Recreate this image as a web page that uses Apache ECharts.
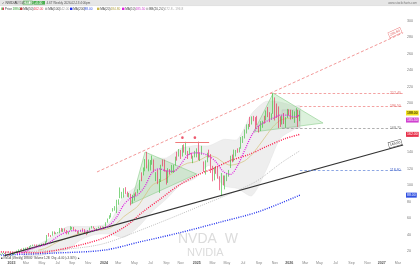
<!DOCTYPE html>
<html><head><meta charset="utf-8">
<script src="https://cdn.jsdelivr.net/npm/echarts@6/dist/echarts.min.js"></script>
<style>html,body{margin:0;padding:0;background:#fff}#c{width:420px;height:265px}</style>
</head><body><div id="c"></div>
<script>
// ---------- categories (weekly, Friday dates) ----------
const weekStart = '2022-11-25';
const weekCount = 227;
const monthNames = ['Jan','Feb','Mar','Apr','May','Jun','Jul','Aug','Sep','Oct','Nov','Dec'];
const yTicks = [20,40,60,80,100,120,140,160,180,200,220,240,260,280,300];

// ---------- weekly candles [open, close, low, high] ----------
const ohlc2022 = [[15.5,16.5,15.2,16.7],[16.5,17.2,16.0,17.8],[17.2,17.3,16.4,17.6],[17.3,16.5,16.2,18.3],[16.5,15.2,15.0,16.6],[15.2,14.6,14.1,15.5]];
const ohlc2023 = [[14.6,14.9,14.0,15.0],[15.2,16.9,15.0,16.9],[16.8,17.8,16.5,17.9],[17.6,20.3,17.3,20.4],[19.8,21.1,19.2,22.0],[21.0,21.3,20.8,22.3],[21.6,21.4,21.0,22.8],[21.0,23.3,20.6,23.8],[23.5,24.0,22.5,24.0],[24.0,23.0,22.6,24.6],[23.1,25.7,22.9,25.8],[25.9,26.8,25.2,27.1],[26.6,27.8,26.0,27.8],[27.6,27.0,26.2,28.0],[26.8,26.8,26.1,27.9],[26.7,27.1,26.3,27.4],[27.0,27.8,26.1,28.0],[27.7,28.7,26.8,28.8],[28.7,28.3,28.0,29.4],[28.3,31.2,28.1,31.8],[31.5,38.9,30.5,39.5],[40.0,39.3,37.5,41.9],[38.9,38.7,37.0,39.5],[38.8,42.6,38.6,43.9],[42.7,42.2,40.3,43.8],[41.6,42.3,40.6,42.6],[42.0,42.5,41.5,43.0],[42.7,45.5,41.5,48.0],[46.0,44.4,43.5,48.1],[45.4,46.8,43.2,47.4],[46.5,44.7,43.5,47.6],[44.4,40.9,40.3,45.5],[40.3,43.3,40.3,43.8],[45.8,46.1,45.2,50.2],[46.5,48.5,46.3,49.4],[48.6,45.6,45.1,49.3],[45.4,43.9,43.4,46.5],[44.0,41.6,40.9,44.5],[41.6,43.5,41.0,43.9],[44.0,45.7,43.4,45.9],[45.6,45.4,44.2,47.5],[44.0,41.4,41.3,46.7],[42.5,40.5,39.3,42.8],[40.9,45.0,40.8,45.5],[45.3,48.3,45.0,48.5],[48.5,49.3,47.4,50.5],[50.0,47.8,47.5,50.0],[47.8,46.5,46.0,48.0],[45.6,47.6,44.9,47.8],[48.0,48.9,47.6,49.6],[49.5,48.8,48.0,50.0],[48.8,49.5,48.6,49.9]];
const ohlc2024 = [[49.2,49.0,47.3,49.5],[49.5,54.7,49.5,55.0],[55.0,59.5,54.4,59.5],[60.0,61.1,59.0,63.5],[61.5,66.2,60.8,66.2],[68.3,72.1,68.0,72.2],[72.5,72.6,69.1,74.6],[71.9,78.9,66.2,82.4],[79.3,82.3,76.3,82.9],[85.2,87.5,84.3,97.4],[86.4,87.8,84.0,92.0],[86.9,94.3,85.0,96.4],[95.0,90.4,89.5,97.7],[90.3,88.0,85.9,92.3],[87.9,88.2,85.2,90.6],[89.0,76.2,75.6,89.6],[78.1,87.8,78.0,88.4],[87.7,88.8,81.2,90.0],[90.4,89.8,87.0,91.5],[90.4,92.5,90.0,95.2],[94.4,106.5,94.0,106.6],[111.0,109.6,105.0,115.8],[113.0,120.9,112.0,121.7],[120.3,131.9,117.0,131.9],[132.9,126.6,120.5,140.8],[123.2,123.5,117.0,131.4],[123.5,125.8,118.0,130.7],[127.5,129.2,125.0,136.2],[130.6,117.9,116.0,131.4],[113.0,113.1,105.0,116.0],[112.5,107.3,101.4,119.0],[92.1,104.8,90.7,107.7],[106.3,124.6,104.0,125.0],[130.0,129.4,123.0,131.3],[129.6,119.4,116.7,131.3],[116.0,102.8,100.9,118.1],[104.9,119.1,103.0,120.8],[116.8,116.0,113.0,119.7],[116.6,121.4,115.0,124.9],[121.8,124.9,115.1,125.0],[124.9,134.8,124.0,134.9],[138.1,138.0,130.0,140.9],[136.8,141.5,135.0,144.1],[143.0,135.4,132.0,143.0],[137.5,147.6,135.0,148.9],[149.0,142.0,139.8,149.8],[141.0,142.0,137.0,152.9],[141.8,138.3,132.0,141.9],[138.8,142.4,137.0,145.8],[138.9,134.3,132.4,139.6],[132.8,134.7,126.9,136.0],[135.0,137.0,134.0,141.9]];
const ohlc2025 = [[136.0,144.5,134.0,145.0],[148.6,135.9,130.7,153.1],[129.9,137.7,129.5,138.9],[139.2,142.6,137.1,148.0],[124.8,120.1,116.2,129.0],[114.8,129.8,113.0,130.4],[130.1,138.9,128.0,139.6],[141.3,134.4,133.8,143.4],[136.6,124.9,115.0,138.0],[123.5,112.7,104.8,123.7],[109.9,121.7,106.0,122.0],[122.7,117.7,114.0,123.5],[119.8,109.7,108.0,122.0],[107.0,94.3,94.0,111.0],[87.5,110.9,86.6,115.0],[108.5,101.5,100.0,112.0],[98.8,111.0,95.0,111.9],[108.0,114.5,105.0,115.0],[112.9,116.7,110.5,118.7],[123.0,135.4,121.0,136.0],[134.3,131.3,128.0,137.4],[134.2,135.1,129.0,143.5],[135.5,141.7,135.0,143.0],[142.2,142.0,139.5,145.0],[142.5,143.9,140.0,146.2],[145.3,157.8,144.5,158.7],[157.9,159.3,151.5,160.0],[158.5,164.9,157.0,167.9],[165.0,172.4,163.0,174.2],[172.4,173.5,168.0,174.7],[176.0,173.7,171.0,183.3],[175.0,182.7,174.0,183.9],[182.6,180.5,178.0,184.5],[182.0,178.0,168.8,183.0],[180.0,174.2,173.0,184.5],[170.0,167.0,164.1,172.6],[168.0,177.8,166.0,178.0],[174.0,176.7,170.0,178.5],[182.0,178.2,175.0,184.6],[180.0,187.6,179.0,191.1],[185.0,183.2,183.0,195.3],[187.0,183.2,176.8,189.0],[182.0,186.3,180.0,187.5],[189.0,202.5,187.0,212.2],[206.0,188.2,178.9,207.0],[193.0,190.2,182.0,199.6],[190.0,178.9,169.5,196.0],[179.0,177.0,171.0,184.0],[176.0,182.4,174.0,185.0],[185.0,175.0,174.5,188.0],[176.0,181.0,170.0,183.0],[183.0,190.5,182.0,193.0]];
const ohlc2026 = [[190.0,188.9,185.0,192.5],[189.0,184.9,180.0,192.0],[185.0,186.2,180.5,191.5],[184.0,187.7,176.0,190.0],[188.0,191.0,182.0,194.0],[190.0,182.0,171.0,192.0],[182.0,188.0,178.0,191.0]];

// ---------- moving averages [weekIndex, price] ----------
const ma50 = [[0,19],[20,18],[40,25],[58,36],[70,50],[80,68],[90,84],[100,100],[111,113],[120,121],[129,130],[140,138],[150,148],[160,157],[168,162]];
const ma100 = [[0,18],[30,21],[56,28],[78,45],[110,73],[142,103],[158,128],[168,142]];
const ma200 = [[0,15],[30,17.5],[58,21],[78,31],[100,42],[123,55],[145,68],[168,88]];
const ma10 = [[9,16.7],[13,18.7],[17,22.5],[21,25.3],[25,27.7],[29,32.9],[33,39.2],[37,43.1],[41,44.8],[45,44.4],[49,44.1],[53,45.3],[57,47.2],[61,51.3],[65,61.2],[69,76.2],[73,84.6],[77,88.4],[81,99.2],[85,115.6],[89,120.1],[93,117.4],[97,117.0],[101,125.3],[105,136.6],[109,139.5],[113,138.9],[117,135.6],[121,128.1],[125,116.7],[129,113.3],[133,124.0],[137,142.8],[141,161.2],[145,172.6],[149,177.6],[153,181.7],[157,185.5],[161,185.2],[165,183.3],[168,185.5]];
const ma20 = [[21,21.0],[25,23.2],[29,27.7],[33,32.3],[37,35.4],[41,38.9],[45,41.8],[49,43.6],[53,45.1],[57,45.8],[61,47.7],[65,53.3],[69,61.7],[73,68.0],[77,74.8],[81,87.7],[85,100.1],[89,104.3],[93,108.3],[97,116.3],[101,122.7],[105,127.0],[109,128.3],[113,132.1],[117,136.1],[121,133.8],[125,127.8],[129,124.5],[133,126.1],[137,129.8],[141,137.3],[145,148.3],[149,160.2],[153,171.5],[157,179.1],[161,181.4],[165,182.5],[168,184.8]];

// ---------- Bollinger band (20,2) ----------
const bbIdx   = [13,21,29,37,45,53,61,69,77,85,93,101,109,117,125,133,141,149,157,165,168];
const bbUpper = [22.5,28,37.7,49.4,49.8,50.1,54.7,86.7,100.8,132.1,133.3,144.7,148.3,148.1,155.8,156.1,187.3,202.2,201.1,196.5,196.8];
const bbLower = [12.5,14,17.7,21.4,33.8,40.1,40.7,36.7,48.8,68.1,83.3,100.7,108.3,124.1,99.8,96.1,87.3,118.2,157.1,168.5,172.8];

// ---------- annotations (week index, price) ----------
const channelLine = [[54,116.2],[226,285.6]];
const supportLine = [[2,14.4],[226,149.0]];
const resistTop = [[98,152.7],[117,152.7]];
const levelStart = [151,168,158,168];
const levelValue = [212.4,196.5,169.7,118.6];
const triangle1 = [[73,77.2],[81,140.5],[110,113.7]];
const triangle2 = [[141.5,164.9],[153,212.2],[180.5,175.8]];
const boxX = [158,168];
const boxY = [169.7,191.7];
const peakDots = [[102,158],[109,158]];
const questionMark = [[174,224]];
const lastClose = 188.0;

// ---------- build ----------
const weeks = [];
const t0 = Date.parse(weekStart + 'T00:00:00Z');
for (let i = 0; i < weekCount; i++) weeks.push(new Date(t0 + i * 7 * 86400000).toISOString().slice(0, 10));
const candles = [].concat(ohlc2022, ohlc2023, ohlc2024, ohlc2025, ohlc2026);
const f2 = v => v.toFixed(2);
const last = a => a[a.length - 1][1];

const levelColors = ['#f08a8a','#f08a8a','#9a9a9a','#6f8fdc'];
const levelTextColors = ['#e26a6a','#e26a6a','#777','#4060c8'];
const mlData = [];
mlData.push([{coord: channelLine[0], lineStyle:{color:'#f08c8c', width:0.9, type:[3,2]},
  label:{show:true, position:'insideEndTop', formatter:f2(channelLine[1][1]), fontSize:3.5, color:'#e05a5a', backgroundColor:'#fff', borderColor:'#e88', borderWidth:0.5, padding:[0.5,1], distance:1}}, {coord: channelLine[1]}]);
mlData.push([{coord: supportLine[0], lineStyle:{color:'#333', width:1.1, type:'solid'},
  label:{show:true, position:'insideEndTop', formatter:f2(supportLine[1][1]), fontSize:3.5, color:'#333', backgroundColor:'#fff', borderColor:'#555', borderWidth:0.5, padding:[0.5,1], distance:1}}, {coord: supportLine[1]}]);
mlData.push([{coord: resistTop[0], lineStyle:{color:'#f07a7a', width:1, type:'solid'}, label:{show:false}}, {coord: resistTop[1]}]);
levelValue.forEach((v, i) => {
  mlData.push([{coord:[levelStart[i], v], lineStyle:{color:levelColors[i], width:0.8, type:[2.5,2]},
    label:{show:true, position:'end', formatter:f2(v), fontSize:3.5, color:levelTextColors[i], distance:-13}}, {coord:[226, v]}]);
});
const tag = (v, bg, fg, dy) => ({yAxis: v, lineStyle:{color:'rgba(255,255,255,0)', width:0.1, type:'solid'},
  label:{show:true, position:'end', formatter:f2(v), fontSize:3.5, color:fg, backgroundColor:bg, padding:[0.5,1], distance:2, offset:[0, dy || 0]}});
mlData.push(tag(lastClose, '#f3e21a', '#000', 0));
mlData.push(tag(last(ma10), '#d040d0', '#fff', 5));
mlData.push(tag(last(ma50), '#e8304a', '#fff', 0));
mlData.push(tag(last(ma200), '#3050e0', '#fff', 0));

const shapes = [
  {pts: triangle1, fill:'rgba(140,210,140,0.30)', stroke:'#8ccc8c'},
  {pts: triangle2, fill:'rgba(140,210,140,0.30)', stroke:'#8ccc8c'},
  {pts: [[boxX[0],boxY[0]],[boxX[1],boxY[0]],[boxX[1],boxY[1]],[boxX[0],boxY[1]]], fill:'rgba(190,190,190,0.25)', stroke:'#c4c4c4'}
];

const txt = (x, y, s, size, color, extra) => Object.assign({type:'text', x, y, z:20,
  style:Object.assign({text:s, fontSize:size, fill:color, verticalAlign:'middle', fontFamily:'Liberation Sans'}, extra || {})});
const rect = (x, y, w, h, fill, stroke) => ({type:'rect', z:19, shape:{x, y, width:w, height:h}, style:{fill, stroke: stroke || null, lineWidth:0.5}});

const graphics = [
  rect(0, 0, 420, 5.5, '#e6e6e6'),
  {type:'line', z:19, shape:{x1:0, y1:5.6, x2:420, y2:5.6}, style:{stroke:'#cfcfcf', lineWidth:0.5}},
  txt(1.5, 2.8, '✓ NVIDIA', 3.4, '#333'),
  rect(15, 1, 7.5, 3.6, '#f4f4f4', '#c8c8c8'), txt(15.8, 2.8, 'NVDA', 3, '#666'),
  rect(23, 1, 9.5, 3.6, '#fff', '#3aa83a'), txt(23.8, 2.8, f2(lastClose), 3.2, '#2a8a2a'),
  rect(33.5, 1, 11.5, 3.6, '#4caf50'), txt(34.3, 2.8, '+6.00', 3.2, '#fff'),
  txt(46.5, 2.8, '4.6T Weekly 2026-02-13 4:00pm', 3, '#555'),
  txt(417, 2.8, 'www.stockcharts.com', 3, '#777', {align:'right'}),
  // legend row
  rect(1.5, 7.6, 1.2, 2.4, '#2eb82e'), rect(2.7, 7.6, 1.2, 2.4, '#e8194a'),
  txt(4.8, 8.8, 'Price', 3.2, '#444'), txt(12.4, 8.8, f2(lastClose), 3.2, '#2a9a2a'),
  rect(20, 7.6, 2.4, 2.4, '#ff1a4a'), txt(23.2, 8.8, 'MA(50)', 3.2, '#444'), txt(33.5, 8.8, f2(last(ma50)), 3.2, '#e8304a'),
  rect(45, 7.6, 2.4, 2.4, '#b8b8b8'), txt(48.2, 8.8, 'MA(100)', 3.2, '#444'), txt(59.5, 8.8, f2(last(ma100)), 3.2, '#999'),
  rect(70, 7.6, 2.4, 2.4, '#2233ee'), txt(73.2, 8.8, 'MA(200)', 3.2, '#444'), txt(84.5, 8.8, f2(last(ma200)), 3.2, '#3050e0'),
  rect(97, 7.6, 2.4, 2.4, '#c8b64a'), txt(100.2, 8.8, 'MA(20)', 3.2, '#444'), txt(110.5, 8.8, f2(last(ma20)), 3.2, '#b0a040'),
  rect(122, 7.6, 2.4, 2.4, '#e020e0'), txt(125.2, 8.8, 'MA(10)', 3.2, '#444'), txt(135.5, 8.8, f2(last(ma10)), 3.2, '#d040d0'),
  rect(146, 7.6, 2.4, 2.4, '#c8c8c8'), txt(149.2, 8.8, 'BB(20,2.0)', 3.2, '#444'), txt(164.5, 8.8, bbLower[bbLower.length-1].toFixed(1) + ' - ' + bbUpper[bbUpper.length-1].toFixed(1), 3.2, '#aaa'),
  // watermark
  Object.assign(txt(178, 239, 'NVDA  W', 14, '#dcdcdc'), {z:0}),
  Object.assign(txt(187, 253, 'NVIDIA', 11, '#dcdcdc'), {z:0}),
  // footer
  txt(1, 257.8, '■ NVDA (Weekly) 188.00  Volume 1.2B  Chg +6.00 (+3.30%) ▲', 2.8, '#444')
];

const option = {
  animation: false,
  backgroundColor: '#fff',
  textStyle: {fontFamily: 'Liberation Sans, Arial, sans-serif'},
  grid: {left: 0, right: 16, top: 13, bottom: 7, containLabel: false},
  xAxis: {
    type: 'category', data: weeks, boundaryGap: true,
    axisLine: {show: false}, axisTick: {show: false}, splitLine: {show: false},
    axisLabel: {
      fontSize: 3.6, color: '#888', margin: 2.5,
      interval: (i, v) => (+v.slice(8, 10) <= 7) && (+v.slice(5, 7) % 2 === 1),
      formatter: v => { const m = +v.slice(5, 7); return m === 1 ? '{y|' + v.slice(0, 4) + '}' : monthNames[m - 1]; },
      rich: {y: {fontSize: 3.6, fontWeight: 'bold', color: '#555'}}
    }
  },
  yAxis: {
    type: 'value', position: 'right', min: 11.48, max: 309.74, scale: true,
    axisLine: {show: false}, axisTick: {show: false}, splitLine: {show: false},
    axisLabel: {customValues: yTicks, fontSize: 3.6, color: '#777', margin: 3}
  },
  graphic: graphics,
  series: [
    {type: 'custom', z: 1, silent: true, data: [[bbIdx[0], bbUpper[0]]],
      renderItem: (params, api) => {
        const pts = [];
        bbIdx.forEach((x, i) => pts.push(api.coord([x, bbUpper[i]])));
        for (let i = bbIdx.length - 1; i >= 0; i--) pts.push(api.coord([bbIdx[i], bbLower[i]]));
        return {type: 'polygon', shape: {points: pts, smooth: 0.25}, style: {fill: '#eeeeee', stroke: '#e2e2e2', lineWidth: 0.5}};
      }},
    {type: 'custom', z: 2, silent: true, data: shapes.map(s => s.pts[0]),
      renderItem: (params, api) => {
        const s = shapes[params.dataIndex];
        return {type: 'polygon', shape: {points: s.pts.map(p => api.coord(p))}, style: {fill: s.fill, stroke: s.stroke, lineWidth: 0.6}};
      }},
    {type: 'line', name: 'MA(200)', data: ma200, symbol: 'none', smooth: 0.3, z: 3, silent: true, lineStyle: {color: '#2233ee', width: 1.4, type: [1, 1.3]}},
    {type: 'line', name: 'MA(100)', data: ma100, symbol: 'none', smooth: 0.3, z: 3, silent: true, lineStyle: {color: '#bdbdbd', width: 1, type: [1, 1.2]}},
    {type: 'line', name: 'MA(50)', data: ma50, symbol: 'none', smooth: 0.3, z: 3, silent: true, lineStyle: {color: '#ff1a4a', width: 1.4, type: [1, 1.3]}},
    {type: 'line', name: 'MA(20)', data: ma20, symbol: 'none', smooth: 0.3, z: 3, silent: true, lineStyle: {color: '#d4c27a', width: 0.7}},
    {type: 'candlestick', name: 'NVDA', data: candles, z: 4, barWidth: '72%',
      itemStyle: {color: '#2eb82e', color0: '#e8194a', borderColor: '#2eb82e', borderColor0: '#e8194a', borderWidth: 0.6},
      markLine: {symbol: 'none', silent: true, animation: false, data: mlData}},
    {type: 'line', name: 'MA(10)', data: ma10, symbol: 'none', smooth: 0.3, z: 5, silent: true, lineStyle: {color: '#e020e0', width: 1.3, type: [1, 1.2]}},
    {type: 'scatter', data: peakDots, symbol: 'circle', symbolSize: 2.6, z: 6, silent: true, itemStyle: {color: '#e8304a'}},
    {type: 'scatter', data: questionMark, symbolSize: 1, z: 6, silent: true, itemStyle: {opacity: 0},
      label: {show: true, formatter: '???', position: 'inside', fontSize: 6, color: '#f5a060'}}
  ]
};
const chart = echarts.init(document.getElementById('c'));
chart.setOption(option);
</script></body></html>
